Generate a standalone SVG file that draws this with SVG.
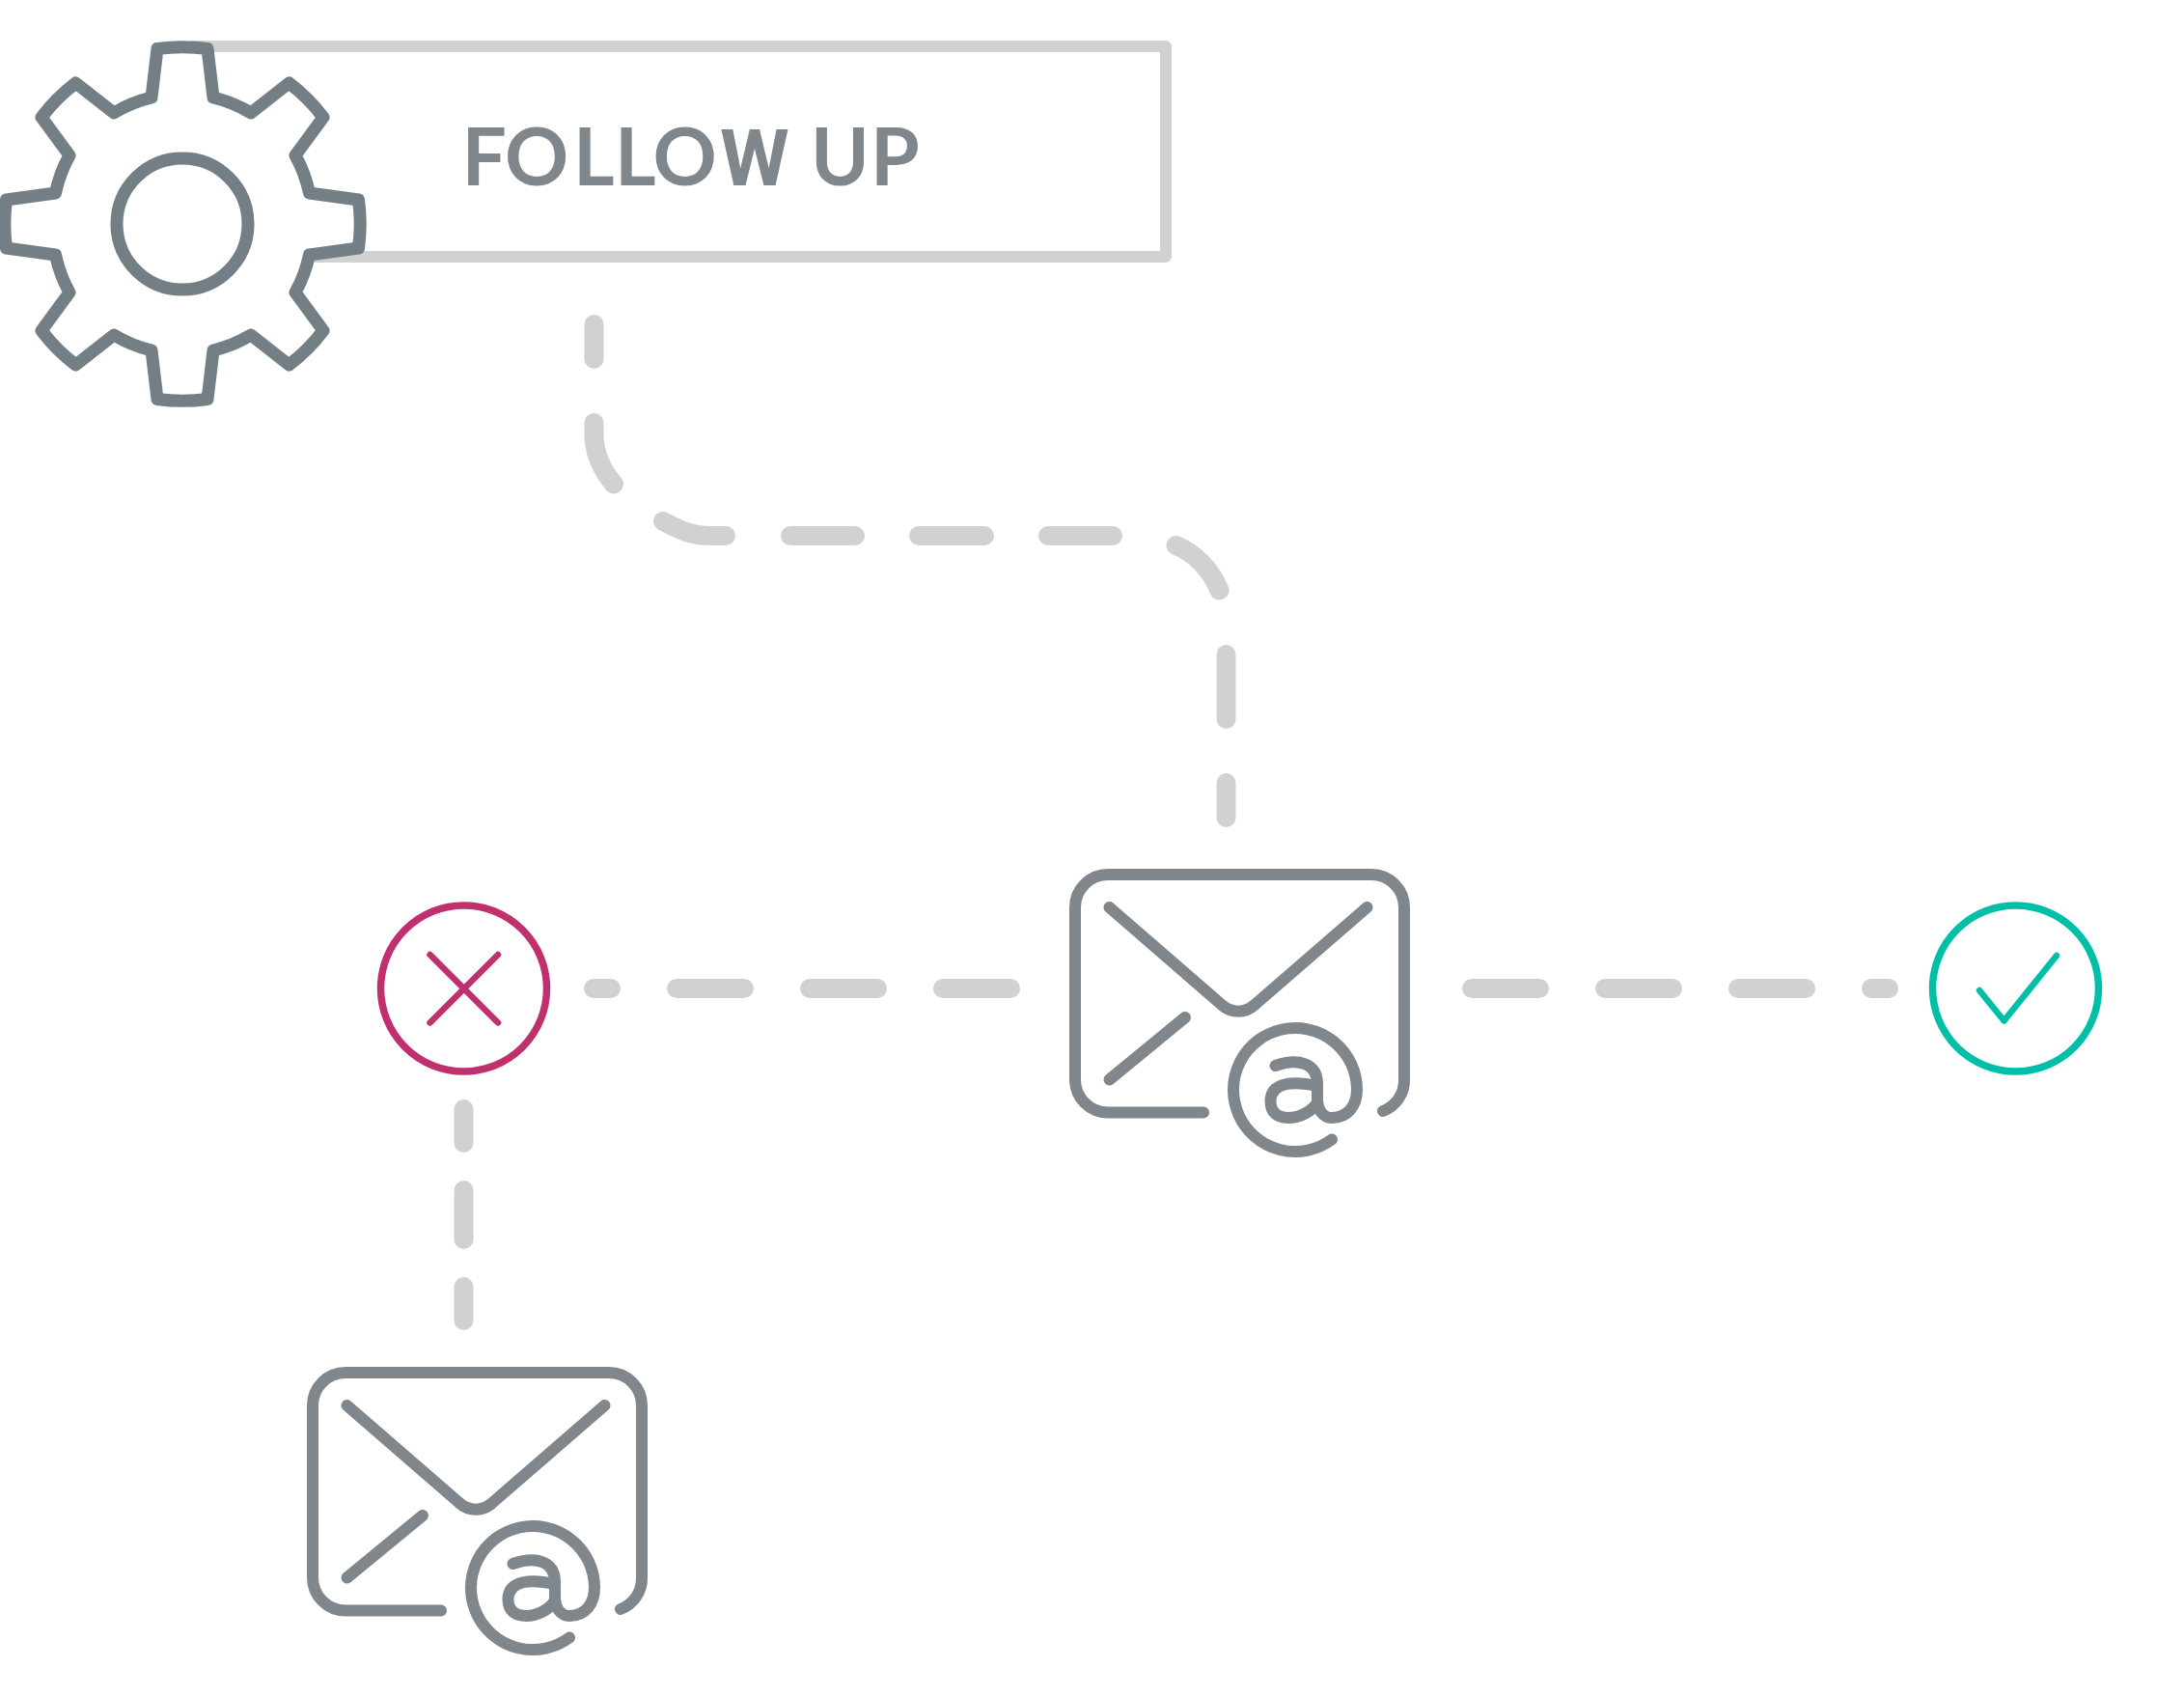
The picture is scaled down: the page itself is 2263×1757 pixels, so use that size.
<svg xmlns="http://www.w3.org/2000/svg" width="2263" height="1757" viewBox="0 0 2263 1757" shape-rendering="geometricPrecision">
<style>
.line{fill:none;stroke-linecap:round;stroke-linejoin:round}
.dash{stroke:#d0d2d1;stroke-width:20}
.env{stroke:#7f868c;stroke-width:12}
.label{font-family:"Lato","Liberation Sans",sans-serif;font-size:82px;font-weight:700;fill:#7f868c}
.narrow{font-family:"Roboto","Liberation Sans",sans-serif}
</style>
<defs>
<g id="envelope" class="line env">
<path d="M1247 1152.500H1148A34 34 0 0 1 1114 1118.500V940A34 34 0 0 1 1148 906H1421A34 34 0 0 1 1455 940V1118.500A34 34 0 0 1 1433 1151"/>
<path d="M1149.500 940L1266 1041A25 25 0 0 0 1300 1041L1416.500 940"/>
<path d="M1149.500 1118.500L1228 1054"/>
<path d="M1380 1180.500A64 64 0 1 1 1406 1128.500C1406 1145 1397 1158 1380 1158C1371 1158 1365 1150 1365 1138V1123C1365 1101 1345 1096 1321.500 1104"/>
<path d="M1365 1125C1342 1120 1316.500 1120 1316.500 1141C1316.500 1153 1324 1158 1335 1158C1347 1158 1360 1151 1365 1142"/>
</g>
</defs>
<g id="connectors" class="line dash">
<path d="M615.500 336V372"/>
<path d="M615.500 438V450C615.500 470 623 486 636 501.500"/>
<path d="M687 540C702 548 716 555 735 555H752"/>
<path d="M819 555H886"/>
<path d="M952 555H1020"/>
<path d="M1086 555H1153"/>
<path d="M1218.500 565C1238 573 1255 590 1263.500 611.500"/>
<path d="M1270.500 678V745"/>
<path d="M1270.500 811V847"/>
<path d="M615 1024H633"/>
<path d="M701 1024H771"/>
<path d="M839 1024H909"/>
<path d="M977 1024H1047"/>
<path d="M1525 1024H1595"/>
<path d="M1663 1024H1733"/>
<path d="M1801 1024H1871"/>
<path d="M1939 1024H1957"/>
<path d="M480.500 1149V1184"/>
<path d="M480.500 1233V1284"/>
<path d="M480.500 1333V1368"/>
</g>
<g id="follow-up">
<path class="line" stroke="#d0d2d1" stroke-width="12" d="M200 48H1208V266H320"/>
<text class="label" y="191.500" x="478.500 523 594 637 676.500">FOLLO<tspan class="narrow" x="746">W</tspan><tspan x="830 840 902"> UP</tspan></text>
</g>
<g id="gear">
<path fill="#fff" stroke="#737f85" stroke-width="13" stroke-linejoin="round" d="M163 50.500A184 184 0 0 1 215 50.500L221 101A137 137 0 0 1 260 117L299.500 86A184 184 0 0 1 335 121.500L306 161A137 137 0 0 1 320.500 200L371.500 207A184 184 0 0 1 371.500 257L320.500 264A137 137 0 0 1 306 303L335 342.500A184 184 0 0 1 299.500 378L260 347A137 137 0 0 1 221 363L215 413.500A184 184 0 0 1 163 413.500L157 363A137 137 0 0 1 118 347L78.500 378A184 184 0 0 1 43 342.500L72 303A137 137 0 0 1 57.500 264L6.500 257A184 184 0 0 1 6.500 207L57.500 200A137 137 0 0 1 72 161L43 121.500A184 184 0 0 1 78.500 86L118 117A137 137 0 0 1 157 101Z"/>
<circle cx="189" cy="232" r="68" fill="#fff" stroke="#737f85" stroke-width="13"/>
</g>
<g id="email-main"><use href="#envelope"/></g>
<g id="email-lower"><use href="#envelope" transform="translate(-790 516)"/></g>
<g id="fail" class="line" stroke="#c0306f" stroke-width="7.500">
<circle cx="480.500" cy="1024" r="86"/>
<path stroke-width="6.500" d="M445.500 989L516 1059.500M516 989L445.500 1059.500"/>
</g>
<g id="success" class="line" stroke="#00bfa9" stroke-width="7.500">
<circle cx="2088.500" cy="1024" r="86"/>
<path stroke-width="6.500" d="M2051 1026L2076.500 1057.500L2131 990"/>
</g>
</svg>
